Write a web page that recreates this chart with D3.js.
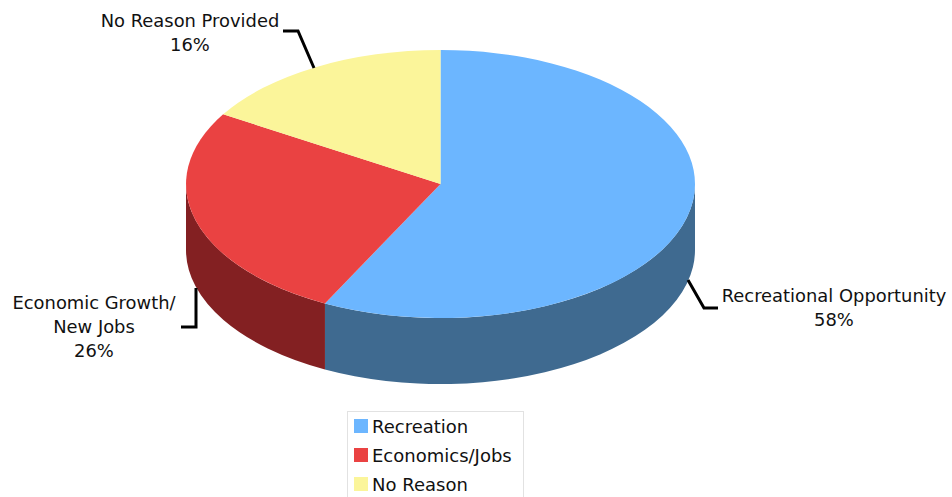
<!DOCTYPE html>
<html><head><meta charset="utf-8">
<script src="https://cdn.jsdelivr.net/npm/d3@7/dist/d3.min.js"></script>
<style>html,body{margin:0;padding:0;background:#fff;overflow:hidden}svg{display:block}text{font-family:"DejaVu Sans",sans-serif;fill:#111}</style>
</head><body><svg id="c" width="952" height="497"></svg>
<script>
const categories=["Recreation","Economics/Jobs","No Reason"];
const values=[57.5,26.2,16.3];
const topColors=["#6cb6ff","#ea4242","#fbf59a"];
const sideColors=["#3f6a90","#832022","#b0ac6c"];
const labels=[["Recreational Opportunity","58%"],["Economic Growth/","New Jobs","26%"],["No Reason Provided","16%"]];
const labelAnchors=[[834,302],[94,309],[190,27]];
const leaders=[[[688,280],[704,308],[718,308]],[[196,288],[196,327],[181,327]],[[314,68],[298,31],[283,31]]];

const W=952,H=497,cx=440.5,cy=184,rx=254.5,ry=134,depth=66;
const svg=d3.select("#c");
const arcs=d3.pie().sort(null).value(d=>d)(values);
const px=a=>cx+rx*Math.sin(a), py=a=>cy-ry*Math.cos(a);

arcs.forEach((d,i)=>{
  const a0=Math.max(d.startAngle,Math.PI/2),a1=Math.min(d.endAngle,3*Math.PI/2);
  if(a1<=a0)return;
  const large=(a1-a0)>Math.PI?1:0;
  const s=`M${px(a0)},${py(a0)}A${rx},${ry} 0 ${large} 1 ${px(a1)},${py(a1)}`+
          `L${px(a1)},${py(a1)+depth}A${rx},${ry} 0 ${large} 0 ${px(a0)},${py(a0)+depth}Z`;
  svg.append("path").attr("d",s).attr("fill",sideColors[i]);
});
const arc=d3.arc().innerRadius(0).outerRadius(1);
svg.append("g").attr("transform",`translate(${cx},${cy}) scale(${rx},${ry})`)
  .selectAll("path").data(arcs).join("path").attr("d",arc).attr("fill",(d,i)=>topColors[i]);

const line=d3.line();
svg.selectAll("path.leader").data(leaders).join("path").attr("class","leader")
  .attr("d",line).attr("fill","none").attr("stroke","#000").attr("stroke-width",3);
labels.forEach((l,i)=>{
  const t=svg.append("text").attr("text-anchor","middle").attr("font-size",17.9);
  l.forEach((s,j)=>t.append("tspan").attr("x",labelAnchors[i][0]).attr("y",labelAnchors[i][1]+j*24).text(s));
});
const lg=svg.append("g");
lg.append("rect").attr("x",347.5).attr("y",411.5).attr("width",176).attr("height",100).attr("fill","#fff").attr("stroke","#e2e2e2");
const ly=d3.scalePoint().domain(categories).range([426,484]);
categories.forEach((c,i)=>{
  lg.append("rect").attr("x",354).attr("y",ly(c)-7).attr("width",14).attr("height",14).attr("fill",topColors[i]);
  lg.append("text").attr("x",372).attr("y",ly(c)+7).attr("font-size",18).text(c);
});
</script></body></html>
